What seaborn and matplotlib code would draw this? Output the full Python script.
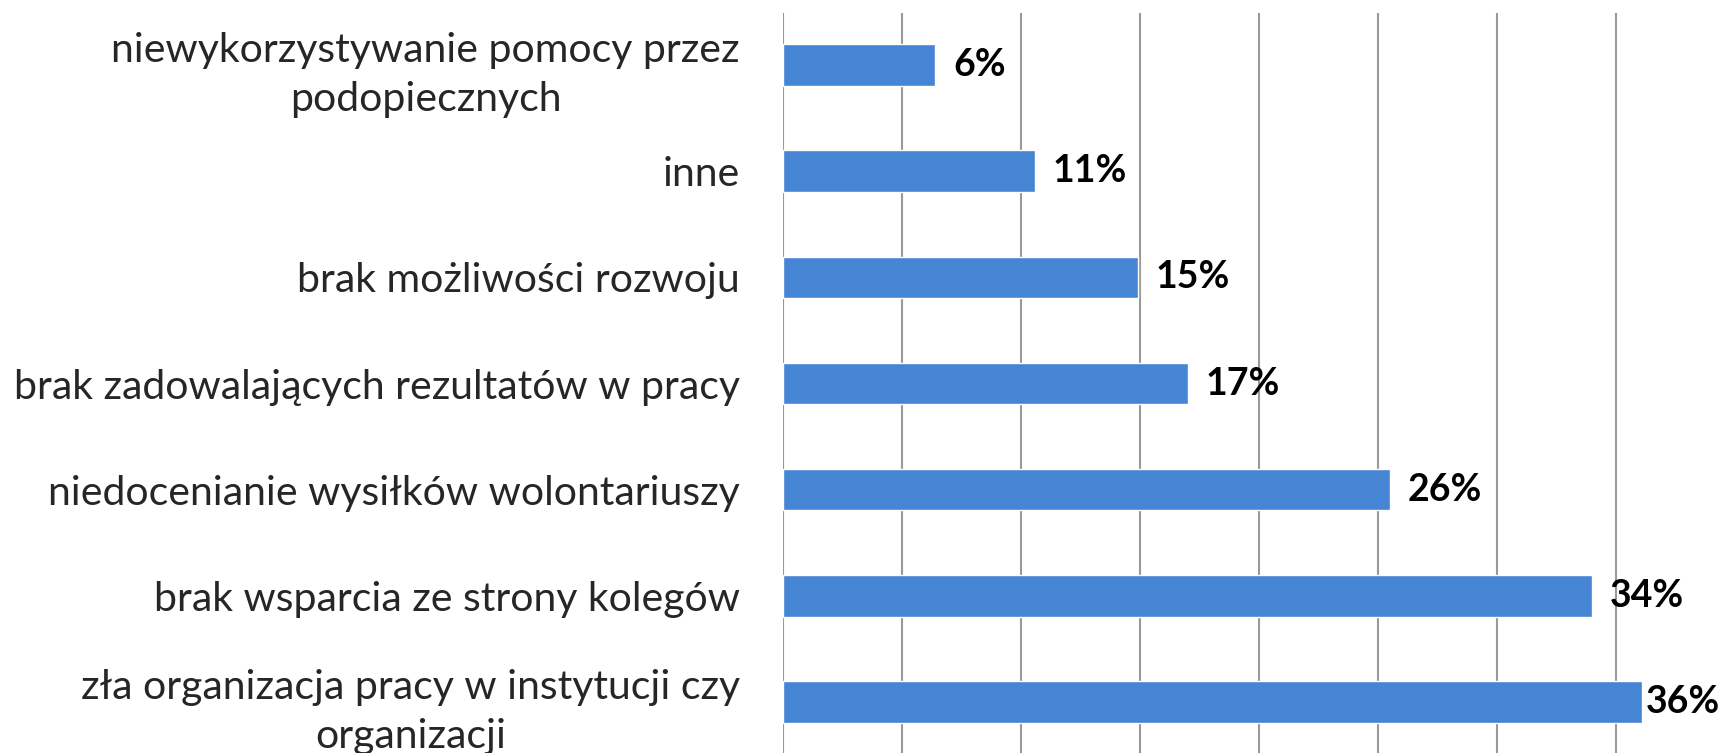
import matplotlib
matplotlib.use("Agg")
import matplotlib.pyplot as plt
import seaborn as sns
import pandas as pd

# data (percent of respondents)
categories = [
    "niewykorzystywanie pomocy przez\npodopiecznych",
    "inne",
    "brak możliwości rozwoju",
    "brak zadowalających rezultatów w pracy",
    "niedocenianie wysiłków wolontariuszy",
    "brak wsparcia ze strony kolegów",
    "zła organizacja pracy w instytucji czy\norganizacji",
]
values = [6.4, 10.6, 14.9, 17.0, 25.5, 34.0, 36.1]
value_labels = ["6%", "11%", "15%", "17%", "26%", "34%", "36%"]
grid_ticks = [0, 5, 10, 15, 20, 25, 30, 35]

df = pd.DataFrame({"reason": categories, "share": values})

sns.set_style("white")
plt.rcParams["font.family"] = ["Lato", "DejaVu Sans"]

W, H = 1727, 753
XMAX = 39.66
fig = plt.figure(figsize=(W / 100, H / 100), dpi=100)
ax = fig.add_axes([783 / W, 0, (W - 783) / W, 740 / H])

sns.barplot(data=df, x="share", y="reason", orient="h", color="#4685d4",
            saturation=1, width=0.39, ax=ax)

ax.set_xlim(0, XMAX)
ax.set_ylim(6.48, -0.49)
ax.set_xticks(grid_ticks)
ax.set_xticklabels([])
ax.xaxis.grid(True, color="#999999", linewidth=1.5)
ax.set_axisbelow(True)
for s in ax.spines.values():
    s.set_visible(False)
ax.set_xlabel("")
ax.set_ylabel("")
ax.set_yticks(range(len(categories)))
ax.set_yticklabels(categories, fontsize=29.5, ha="right",
                   multialignment="center", linespacing=1.4)
ax.tick_params(axis="both", length=0)
ax.tick_params(axis="y", pad=31)

# value labels; keep the last one inside the figure like the original
fig.canvas.draw()
renderer = fig.canvas.get_renderer()
for i, (v, t) in enumerate(zip(values, value_labels)):
    txt = ax.text(v + 0.74, i, t, va="center", ha="left", fontsize=27,
                  fontweight="bold", color="black")
    bb = txt.get_window_extent(renderer)
    if bb.x1 > W - 2:
        txt.set_x(v + 0.17)

fig.savefig("out.png", dpi=100)
